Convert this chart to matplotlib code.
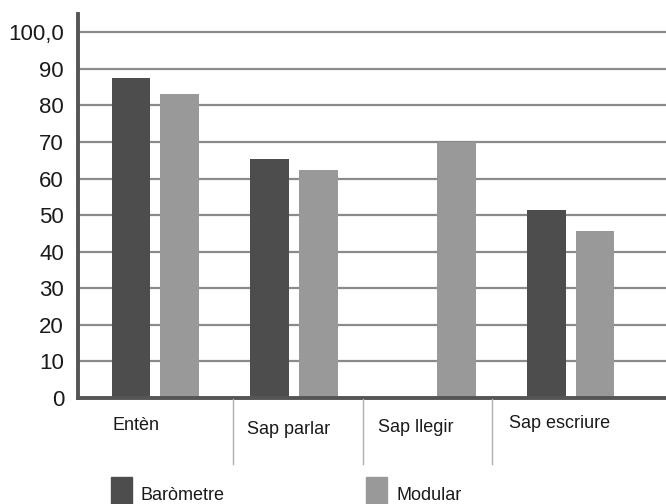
import matplotlib
matplotlib.use("Agg")
import matplotlib.pyplot as plt
from matplotlib.patches import Rectangle
import numpy as np

plt.rcParams['font.family'] = ['Liberation Sans', 'DejaVu Sans']

categories = ["Entèn", "Sap parlar", "Sap llegir", "Sap escriure"]
barometre = [87.6, 65.3, np.nan, 51.5]
modular = [83.1, 62.3, 69.9, 45.6]
series_names = ["Baròmetre", "Modular"]
y_ticks = [0, 10, 20, 30, 40, 50, 60, 70, 80, 90, 100]
y_tick_labels = ["0", "10", "20", "30", "40", "50", "60", "70", "80", "90", "100,0"]

dark = "#4d4d4d"
light = "#999999"
grid_col = "#8a8a8a"

W, H = 666, 504
fig = plt.figure(figsize=(W / 100, H / 100), dpi=100)
# axes box in pixel units: left spine at x=78, baseline at y=398, top at y=14
left, right, top, bottom = 78, 666, 14, 398
ax = fig.add_axes([left / W, 1 - bottom / H, (right - left) / W, (bottom - top) / H])

x = np.arange(len(categories))
bw = 0.28
off = 0.176
ax.bar(x - off, barometre, width=bw, color=dark, zorder=3)
ax.bar(x + off, modular, width=bw, color=light, zorder=3)

ax.set_xlim(-0.56, 3.69)
ax.set_ylim(0, 105)
ax.set_yticks(y_ticks)
ax.set_yticklabels(y_tick_labels, fontsize=16, color="#1a1a1a")
ax.tick_params(axis='y', length=0, pad=10)
ax.set_xticks([])

for v in y_ticks[1:]:
    ax.axhline(v, color=grid_col, lw=1.6, zorder=1)

for s in ["top", "right"]:
    ax.spines[s].set_visible(False)
ax.spines["left"].set_color("#555555")
ax.spines["left"].set_linewidth(2.8)
ax.spines["bottom"].set_color("#555555")
ax.spines["bottom"].set_linewidth(2.8)
ax.spines["left"].set_zorder(4)
ax.spines["bottom"].set_zorder(4)

# category separators below the baseline
sep_x = [0.56, 1.5, 2.43]
for sx in sep_x:
    px = ax.transData.transform((sx, 0))[0]
    fig.add_artist(plt.Line2D([px / W, px / W], [1 - 399 / H, 1 - 464 / H],
                              color="#b0b0b0", lw=1.0))

# category labels (staggered vertically)
label_dx = [-0.14, -0.04, -0.12, -0.08]
label_y = [425, 430, 427, 423]
for i, (cat, dx, ly) in enumerate(zip(categories, label_dx, label_y)):
    px = ax.transData.transform((i + dx, 0))[0]
    fig.text(px / W, 1 - ly / H, cat, fontsize=13, ha="center", va="center",
             color="#1a1a1a")

# legend
leg_x = [111, 366]
for lx, name, col in zip(leg_x, series_names, [dark, light]):
    fig.add_artist(Rectangle((lx / W, 0), 21 / W, 27 / H, color=col,
                             transform=fig.transFigure))
    fig.text((lx + 30) / W, 1 - 496 / H, name, fontsize=13, ha="left",
             va="center", color="#1a1a1a")

fig.savefig("out.png", dpi=100)
